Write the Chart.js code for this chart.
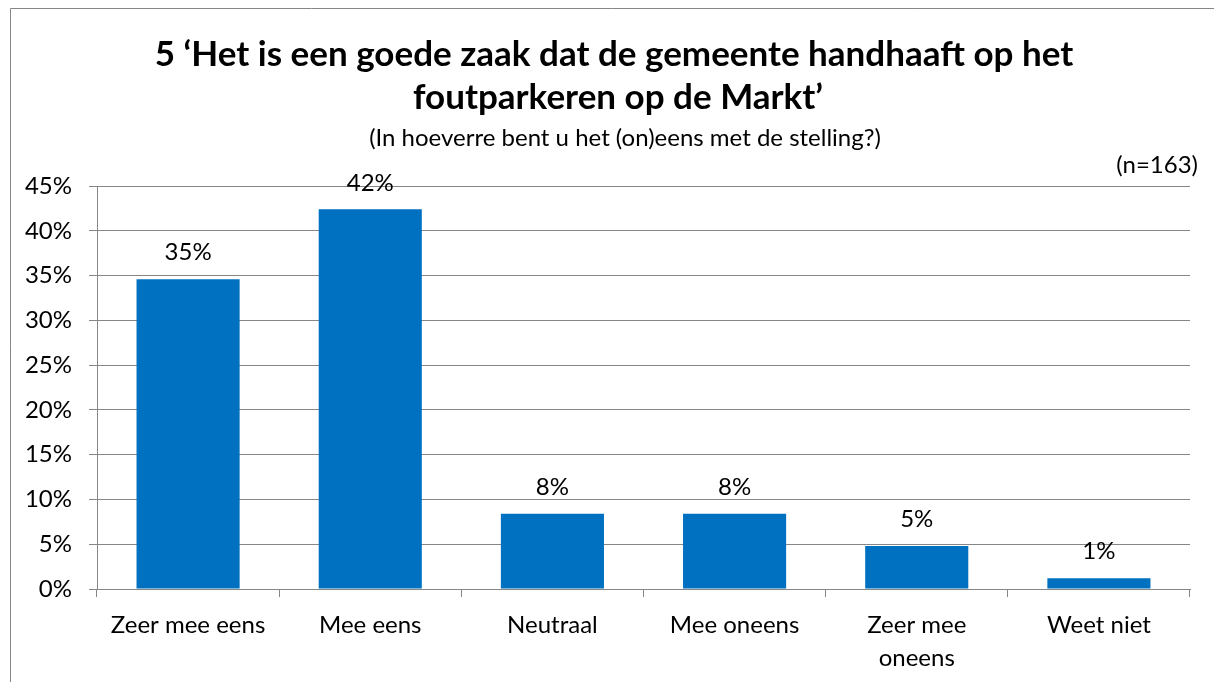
<!DOCTYPE html>
<html><head><meta charset="utf-8">
<script src="https://cdn.jsdelivr.net/npm/chart.js@4/dist/chart.umd.min.js"></script>
<style>html,body{margin:0;padding:0;background:#fff;overflow:hidden}canvas{display:block}</style>
</head><body>
<canvas id="c" width="1214" height="682"></canvas>
<script>
// ---- data ----
const categories = ['Zeer mee eens', 'Mee eens', 'Neutraal', 'Mee oneens', ['Zeer mee', 'oneens'], 'Weet niet'];
const values = [34.6, 42.4, 8.4, 8.4, 4.8, 1.2];
const yMin = 0, yMax = 45, yStep = 5;
const titleLines = ['5 \u2018Het is een goede zaak dat de gemeente handhaaft op het', 'foutparkeren op de Markt\u2019'];
const subtitleText = '(In hoeverre bent u het (on)eens met de stelling?)';
const sampleNote = '(n=163)';

const FONT = 'Lato, "Noto Sans", sans-serif';
const GRAY = '#868686';
const BLUE = '#0070C0';

const framePlugin = {
  id: 'frame',
  beforeDraw(chart) {
    const ctx = chart.ctx;
    ctx.save();
    ctx.fillStyle = '#fff';
    ctx.fillRect(0, 0, chart.width, chart.height);
    ctx.strokeStyle = GRAY;
    ctx.lineWidth = 1;
    ctx.beginPath();
    ctx.moveTo(10.5, chart.height);
    ctx.lineTo(10.5, 8.5);
    ctx.lineTo(chart.width, 8.5);
    ctx.stroke();
    ctx.restore();
  },
  afterDraw(chart) {
    const ctx = chart.ctx;
    ctx.save();
    ctx.fillStyle = '#000';
    ctx.textBaseline = 'middle';
    ctx.textAlign = 'center';
    ctx.font = 'bold 35px ' + FONT;
    ctx.fillText(titleLines[0], 614, 55);
    ctx.fillText(titleLines[1], 618, 98);
    ctx.font = '24px ' + FONT;
    ctx.fillText(subtitleText, 625, 138);
    ctx.textAlign = 'right';
    ctx.fillText(sampleNote, 1198, 165);
    ctx.restore();
  }
};

const valueLabelPlugin = {
  id: 'valueLabels',
  afterDatasetsDraw(chart) {
    const ctx = chart.ctx;
    const meta = chart.getDatasetMeta(0);
    ctx.save();
    ctx.fillStyle = '#000';
    ctx.font = '24px ' + FONT;
    ctx.textAlign = 'center';
    ctx.textBaseline = 'middle';
    meta.data.forEach((el, i) => {
      ctx.fillText(Math.round(values[i]) + '%', el.x, el.y - 26.5);
    });
    ctx.restore();
  }
};

new Chart(document.getElementById('c'), {
  type: 'bar',
  data: {
    labels: categories,
    datasets: [{
      data: values,
      backgroundColor: BLUE,
      borderWidth: 0,
      barPercentage: 0.566,
      categoryPercentage: 1.0
    }]
  },
  options: {
    responsive: false,
    devicePixelRatio: 1,
    animation: false,
    layout: { padding: { top: 186, right: 24, bottom: 0, left: 0 } },
    plugins: { legend: { display: false }, title: { display: false }, tooltip: { enabled: false } },
    scales: {
      x: {
        afterFit(scale) { scale.height = 93; },
        grid: { offset: true, drawOnChartArea: false, color: GRAY, tickLength: 8, lineWidth: 1 },
        border: { color: GRAY, width: 1 },
        ticks: {
          color: '#000', padding: 12, maxRotation: 0, autoSkip: false,
          font: { family: FONT, size: 24, lineHeight: '33px' }
        }
      },
      y: {
        min: yMin, max: yMax,
        afterFit(scale) { scale.width = 97; },
        grid: { color: GRAY, tickLength: 8, lineWidth: 1 },
        border: { color: GRAY, width: 1 },
        ticks: {
          stepSize: yStep, color: '#000', padding: 17,
          font: { family: FONT, size: 24 },
          callback: v => v + '%'
        }
      }
    }
  },
  plugins: [framePlugin, valueLabelPlugin]
});
</script>
</body></html>
